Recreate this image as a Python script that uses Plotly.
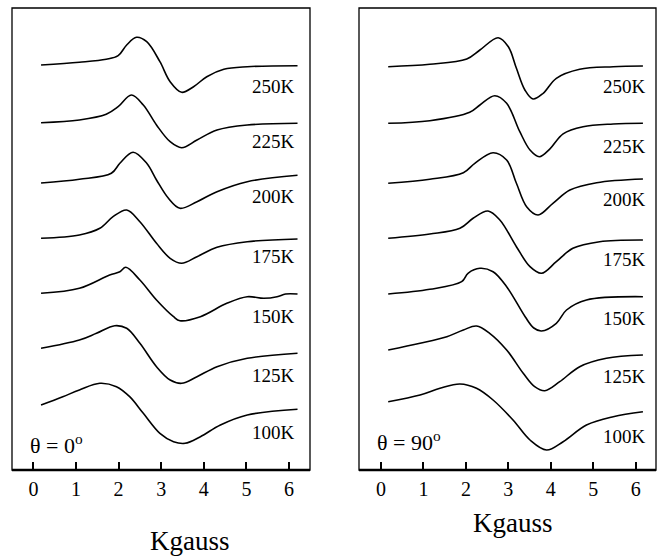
import plotly.graph_objects as go

temps = ["250K", "225K", "200K", "175K", "150K", "125K", "100K"]

# ---------- theta = 0 deg panel: field (kGauss) and EPR derivative signal (arb. units)
f0_250 = [0.18, 1.08, 1.71, 1.99, 2.19, 2.42, 2.66, 2.97, 3.21, 3.48, 3.76, 4.07, 4.47, 5.02, 6.2]
s0_250 = [0, 2.7, 5.7, 9.3, 20, 27.7, 23.3, 3.3, -16.7, -27.3, -21.7, -11.7, -4.3, -1.7, -0.7]
f0_225 = [0.18, 1.08, 1.71, 1.99, 2.30, 2.58, 2.89, 3.21, 3.48, 3.84, 4.31, 5.02, 6.2]
s0_225 = [0, 2.7, 8.4, 16, 27.7, 17.7, -2.3, -19, -25, -17.3, -7.3, -2.3, -0.6]
f0_200 = [0.18, 1.08, 1.83, 2.03, 2.34, 2.66, 2.89, 3.17, 3.44, 3.84, 4.31, 5.02, 6.2]
s0_200 = [0, 3.7, 9.7, 19.7, 30.7, 19.7, 3, -15.3, -25.3, -18.7, -8.7, 1.3, 7.7]
f0_175 = [0.18, 1.08, 1.56, 1.87, 2.19, 2.5, 2.89, 3.21, 3.48, 3.84, 4.31, 5.02, 6.2]
s0_175 = [0, 3.3, 10, 21.6, 28.3, 16.6, -5, -20, -25, -18.4, -9, -3.4, -0.7]
f0_150 = [0.18, 1.08, 1.79, 2.03, 2.17, 2.5, 2.89, 3.29, 3.44, 3.92, 4.54, 5.02, 5.41, 5.72, 5.92, 6.2]
s0_150 = [0, 5, 18.3, 21.6, 26, 13.3, -6.7, -23.4, -27.4, -23.4, -10, -3.4, -5, -3.4, -0.7, -0.7]
f0_125 = [0.18, 1.08, 1.48, 1.91, 2.19, 2.5, 2.89, 3.21, 3.48, 3.84, 4.31, 5.02, 6.2]
s0_125 = [0, 8.3, 15, 22.6, 20, 5, -18.4, -31.7, -35, -28.4, -18.4, -10, -5]
f0_100 = [0.18, 0.69, 1.08, 1.56, 1.95, 2.26, 2.58, 2.97, 3.29, 3.56, 3.92, 4.39, 5.02, 6.2]
s0_100 = [0, 8.3, 15, 21.7, 18.3, 8.3, -8.3, -28.3, -36.7, -38.3, -31.7, -20, -10, -4.3]
offset0 = [405, 347.3, 287, 231.7, 176.7, 121.7, 65]

# ---------- theta = 90 deg panel
f90_250 = [0.17, 1.15, 2.02, 2.33, 2.76, 3.0, 3.19, 3.39, 3.58, 3.82, 4.13, 4.68, 5.47, 6.17]
s90_250 = [0, 2.4, 7.7, 16.7, 29, 20, -1.6, -23.3, -32.3, -26.6, -11.6, -2.6, 0, 0.7]
f90_225 = [0.17, 1.15, 2.09, 2.33, 2.68, 2.96, 3.27, 3.51, 3.73, 3.98, 4.29, 4.76, 5.47, 6.17]
s90_225 = [0, 2.6, 11, 18.3, 27.6, 20, -8.4, -26.7, -33.4, -25.5, -10.5, -3.4, -0.7, 0]
f90_200 = [0.17, 1.15, 1.94, 2.21, 2.64, 2.96, 3.19, 3.43, 3.7, 4.05, 4.45, 5.08, 6.17]
s90_200 = [0, 4, 10.6, 20, 30.6, 23.3, 0, -23.4, -31.7, -20, -6.7, 0.6, 4.3]
f90_175 = [0.17, 1.15, 1.86, 2.17, 2.52, 2.8, 3.19, 3.51, 3.78, 4.13, 4.52, 5.15, 6.17]
s90_175 = [0, 4.3, 10, 20, 27.3, 18.3, -8.4, -28.4, -35, -23.4, -10, -3.4, -1.7]
f90_150 = [0.17, 1.15, 1.9, 2.05, 2.33, 2.64, 2.96, 3.4, 3.6, 3.78, 4.13, 4.37, 4.84, 6.17]
s90_150 = [0, 4.7, 12.3, 20.7, 25.7, 22.3, 7.3, -23, -34, -37, -29.3, -16, -6, -2.7]
f90_125 = [0.17, 0.92, 1.55, 1.94, 2.25, 2.56, 2.96, 3.35, 3.62, 3.86, 4.21, 4.68, 5.31, 6.17]
s90_125 = [0, 6.7, 13.3, 20, 24, 16.7, 0, -23.3, -36.7, -40.7, -31.7, -16.7, -8.3, -5]
f90_100 = [0.17, 0.92, 1.39, 1.86, 2.25, 2.64, 3.11, 3.51, 3.9, 4.29, 4.84, 5.47, 6.17]
s90_100 = [0, 6.7, 13.4, 17.7, 13.4, 1.7, -18.3, -38.3, -48.3, -40, -23.3, -15, -10]
offset90 = [403.3, 346.7, 286.7, 231.7, 176, 120, 68.3]

tick_vals = [0, 1, 2, 3, 4, 5, 6]
tick_text = ["0", "1", "2", "3", "4", "5", "6"]

panel0 = [(f0_250, s0_250), (f0_225, s0_225), (f0_200, s0_200), (f0_175, s0_175),
          (f0_150, s0_150), (f0_125, s0_125), (f0_100, s0_100)]
panel90 = [(f90_250, s90_250), (f90_225, s90_225), (f90_200, s90_200), (f90_175, s90_175),
           (f90_150, s90_150), (f90_125, s90_125), (f90_100, s90_100)]

SERIF = "Liberation Serif"
W, H = 667, 557

fig = go.Figure()
for (f, s), off in zip(panel0, offset0):
    fig.add_trace(go.Scatter(x=f, y=[off + v for v in s], mode="lines",
                             line=dict(color="black", width=1.6, shape="spline", smoothing=1.0),
                             xaxis="x", yaxis="y", showlegend=False, hoverinfo="skip"))
for (f, s), off in zip(panel90, offset90):
    fig.add_trace(go.Scatter(x=f, y=[off + v for v in s], mode="lines",
                             line=dict(color="black", width=1.6, shape="spline", smoothing=1.0),
                             xaxis="x2", yaxis="y2", showlegend=False, hoverinfo="skip"))

def px_x(p):
    return p / W

def px_y(p):
    return 1 - p / H

dom_y = [px_y(470), px_y(8)]
xcommon = dict(showgrid=False, zeroline=False, showline=False, ticks="inside", ticklen=8,
               tickwidth=1.5, tickcolor="black", tickvals=tick_vals, ticktext=tick_text,
               ticklabelstandoff=5,
               tickfont=dict(family=SERIF, size=20, color="black"))
ycommon = dict(showgrid=False, zeroline=False, showline=False, showticklabels=False,
               ticks="", range=[0, 462], domain=dom_y)

fig.update_layout(
    width=W, height=H, margin=dict(l=0, r=0, t=0, b=0),
    paper_bgcolor="white", plot_bgcolor="white",
    font=dict(family=SERIF, color="black"),
    xaxis=dict(domain=[px_x(12), px_x(310)], range=[-0.502, 6.493], anchor="y", **xcommon),
    xaxis2=dict(domain=[px_x(359), px_x(656)], range=[-0.518, 6.478], anchor="y2", **xcommon),
    yaxis=dict(anchor="x", **ycommon),
    yaxis2=dict(anchor="x2", **ycommon),
)

shapes = []
for xr, yr in (("x domain", "y domain"), ("x2 domain", "y2 domain")):
    shapes.append(dict(type="rect", xref=xr, yref=yr, x0=0, x1=1, y0=0, y1=1,
                       line=dict(color="black", width=1.3)))
    shapes.append(dict(type="line", xref=xr, yref=yr, x0=0, x1=1, y0=0, y1=0,
                       line=dict(color="black", width=2.5)))
fig.update_layout(shapes=shapes)

ann = []
label_y0 = [384, 328.3, 273.3, 214, 153.3, 95, 37.3]
label_y90 = [383.3, 323.3, 270.7, 210.7, 151.7, 93.3, 33.3]
for t, yv in zip(temps, label_y0):
    ann.append(dict(text=t, xref="paper", yref="y", x=px_x(297), y=yv, xanchor="right",
                    yanchor="middle", showarrow=False,
                    font=dict(family=SERIF, size=19, color="black")))
for t, yv in zip(temps, label_y90):
    ann.append(dict(text=t, xref="paper", yref="y2", x=px_x(648), y=yv, xanchor="right",
                    yanchor="middle", showarrow=False,
                    font=dict(family=SERIF, size=19, color="black")))
ann.append(dict(text="θ = 0<sup>o</sup>", xref="paper", yref="paper", x=px_x(28), y=px_y(444),
                xanchor="left", yanchor="middle", showarrow=False,
                font=dict(family=SERIF, size=22, color="black")))
ann.append(dict(text="θ = 90<sup>o</sup>", xref="paper", yref="paper", x=px_x(375), y=px_y(441),
                xanchor="left", yanchor="middle", showarrow=False,
                font=dict(family=SERIF, size=22, color="black")))
ann.append(dict(text="Kgauss", xref="paper", yref="paper", x=px_x(190), y=px_y(541),
                xanchor="center", yanchor="middle", showarrow=False,
                font=dict(family=SERIF, size=27, color="black")))
ann.append(dict(text="Kgauss", xref="paper", yref="paper", x=px_x(513), y=px_y(523),
                xanchor="center", yanchor="middle", showarrow=False,
                font=dict(family=SERIF, size=27, color="black")))
fig.update_layout(annotations=ann)

fig.write_html("out.html", config={"displayModeBar": False},
               post_script="document.body.style.margin='0';")
